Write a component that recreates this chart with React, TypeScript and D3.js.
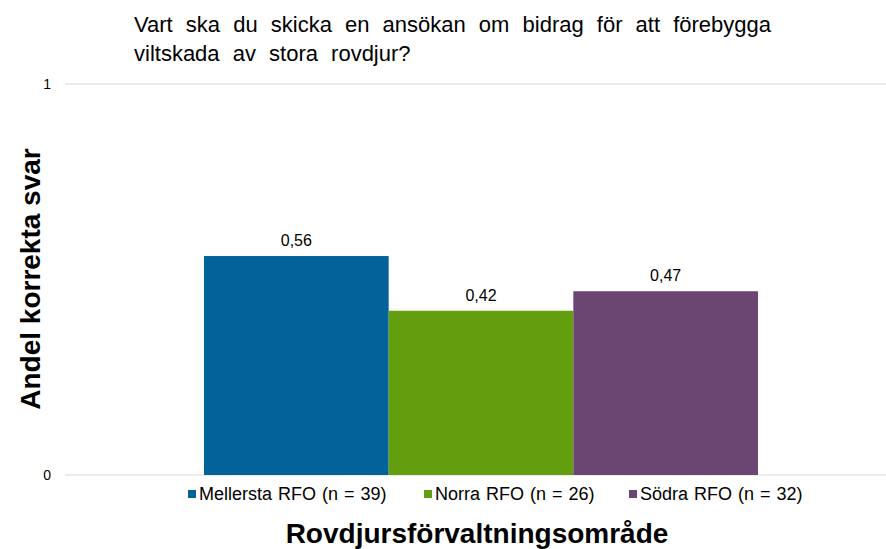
import React from 'react';
import * as d3 from 'd3';

const seriesNames = ['Mellersta RFO (n = 39)', 'Norra RFO (n = 26)', 'Södra RFO (n = 32)'];
const seriesValues = [0.56, 0.42, 0.47];
const seriesColors = ['#02639a', '#629e0e', '#6c4672'];
const yTicks = [0, 1];
const titleLines = ['Vart ska du skicka en ansökan om bidrag för att förebygga', 'viltskada av stora rovdjur?'];

const W = 886;
const H = 549;
const font = 'Liberation Sans, Arial, sans-serif';

const App: React.FC = () => {
  const y = d3.scaleLinear().domain([0, 1]).range([475, 84]);
  const x = d3.scaleBand<string>().domain(seriesNames).range([204, 758]).padding(0);
  const legendX = [188, 424, 629];

  return (
    <svg width={W} height={H} style={{ position: 'absolute', left: 0, top: 0 }}>
      <rect width={W} height={H} fill="#fff" />
      {titleLines.map((t, i) => (
        <text key={i} x={134} y={32 + i * 29} fontFamily={font} fontSize={22} wordSpacing={7} fill="#000">
          {t}
        </text>
      ))}
      {yTicks.map(t => (
        <g key={t}>
          <line x1={65} x2={886} y1={y(t)} y2={y(t)} stroke="#d9d9d9" strokeWidth={1} />
          <text x={51} y={y(t)} dy="0.35em" textAnchor="end" fontFamily={font} fontSize={14} fill="#000">
            {t}
          </text>
        </g>
      ))}
      {seriesNames.map((s, i) => (
        <g key={s}>
          <rect
            x={x(s)}
            y={y(seriesValues[i])}
            width={x.bandwidth()}
            height={y(0) - y(seriesValues[i])}
            fill={seriesColors[i]}
          />
          <text
            x={(x(s) as number) + x.bandwidth() / 2}
            y={y(seriesValues[i]) - 10}
            textAnchor="middle"
            fontFamily={font}
            fontSize={16}
            fill="#000"
          >
            {d3.format('.2f')(seriesValues[i]).replace('.', ',')}
          </text>
        </g>
      ))}
      {seriesNames.map((s, i) => (
        <g key={'lg' + s} transform={`translate(${legendX[i]},494)`}>
          <rect x={0} y={-4} width={8} height={8} fill={seriesColors[i]} />
          <text x={11} y={0} dy="0.35em" fontFamily={font} fontSize={18} wordSpacing={1} fill="#000">
            {s}
          </text>
        </g>
      ))}
      <text x={477} y={543} textAnchor="middle" fontFamily={font} fontSize={28} fontWeight="bold" fill="#000">
        Rovdjursförvaltningsområde
      </text>
      <text
        transform="translate(40,279) rotate(-90)"
        textAnchor="middle"
        fontFamily={font}
        fontSize={28}
        fontWeight="bold"
        fill="#000"
      >
        Andel korrekta svar
      </text>
    </svg>
  );
};

export default App;
